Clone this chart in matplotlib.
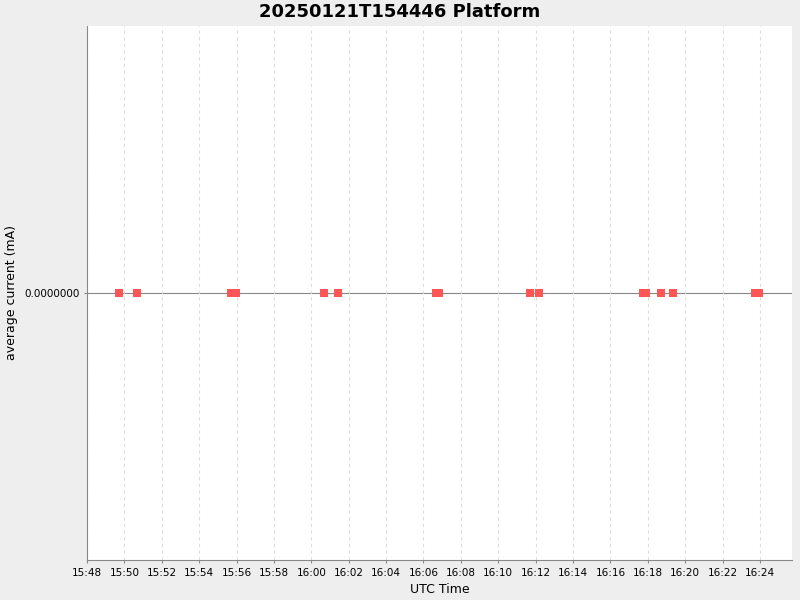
import matplotlib
matplotlib.use("Agg")
import matplotlib.pyplot as plt
import matplotlib.dates as mdates
import pandas as pd

times = ["15:49:43","15:50:41","15:55:42","15:55:58","16:00:41","16:01:26","16:06:40","16:06:50",
         "16:11:42","16:12:11","16:17:45","16:17:55","16:18:43","16:19:21","16:23:44","16:23:57"]
values = [0.0]*len(times)

t = pd.to_datetime(["2025-01-21 " + s for s in times])

fig = plt.figure(figsize=(8,6), dpi=100, facecolor="#EEEEEE")
ax = fig.add_axes([87/800, 1-560/600, (792-87)/800, (560-26)/600])
ax.set_facecolor("white")
ax.axhline(0, color="#888888", lw=0.8, zorder=1)
ax.scatter(t, values, marker="s", s=40, color="#FF5555", zorder=3, linewidths=0)
ax.set_xlim(pd.Timestamp("2025-01-21 15:48:00"), pd.Timestamp("2025-01-21 16:25:43"))
ax.set_ylim(-1, 1)
ax.set_yticks([0])
ax.set_yticklabels(["0.0000000"])
ax.xaxis.set_major_locator(mdates.MinuteLocator(byminute=range(0,60,2)))
ax.xaxis.set_major_formatter(mdates.DateFormatter("%H:%M"))
ax.grid(axis="x", color="#DDDDDD", linestyle=(0,(3,3)), lw=0.8)
ax.tick_params(labelsize=7.5, length=2, color="#888888")
for side in ["top","right"]:
    ax.spines[side].set_visible(False)
for side in ["left","bottom"]:
    ax.spines[side].set_color("#888888")
ax.set_xlabel("UTC Time", fontsize=9)
ax.set_ylabel("average current (mA)", fontsize=9)
fig.text(0.5, 1-12/600, "20250121T154446 Platform", ha="center", va="center", fontsize=13, fontweight="bold")
fig.savefig("out.png", dpi=100, facecolor=fig.get_facecolor())
